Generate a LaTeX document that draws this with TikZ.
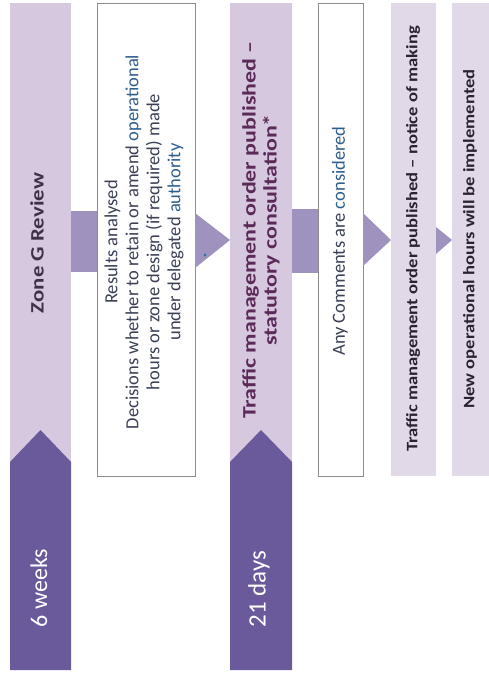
\documentclass[tikz,border=0pt]{standalone}
\usepackage{fontspec}
\setmainfont{Carlito}
\definecolor{lightpurple}{HTML}{D6C8DE}
\definecolor{darkpurple}{HTML}{6A5A9C}
\definecolor{bandpurple}{HTML}{A092BE}
\definecolor{palepurple}{HTML}{E1D9E8}
\definecolor{titletext}{HTML}{5B2A59}
\definecolor{zonetext}{HTML}{3D3347}
\definecolor{boxtext}{HTML}{3B4055}
\definecolor{bluetext}{HTML}{2E5E8E}
\definecolor{darktext}{HTML}{2A2230}
\definecolor{boxline}{HTML}{8C8C8C}
\newcommand{\wide}[2]{\scalebox{#1}[1]{#2}}
\begin{document}
\begin{tikzpicture}[x=1pt,y=-1pt,
  colbox/.style={rectangle, inner sep=0, outer sep=0, anchor=north west},
  whitebox/.style={colbox, fill=white, draw=boxline, line width=0.6pt},
  vtext/.style={rotate=90, inner sep=0, align=center},
  linkband/.style={fill=bandpurple},
]
\useasboundingbox (0,0) rectangle (489,674);
% columns
\node[colbox, fill=lightpurple, minimum width=61pt, minimum height=470pt] (c1) at (10,3) {};
\node[colbox, fill=lightpurple, minimum width=62pt, minimum height=470pt] (c3) at (230,3) {};
\node[whitebox, minimum width=98pt, minimum height=473pt] (b2) at (97,3) {};
\node[whitebox, minimum width=45pt, minimum height=473pt] (b4) at (318,3) {};
\node[colbox, fill=palepurple, minimum width=45pt, minimum height=473pt] (c5) at (391,3) {};
\node[colbox, fill=palepurple, minimum width=37pt, minimum height=473pt] (c6) at (452,3) {};
% dark arrows (time spans)
\fill[darkpurple] (10,670) -- (10,462) -- (40.5,430) -- (71,462) -- (71,670) -- cycle;
\fill[darkpurple] (230,670) -- (230,462) -- (261,430) -- (292,462) -- (292,670) -- cycle;
% links
\fill[linkband] (c1.east |- 0,211) rectangle (b2.west |- 0,272);
\fill[linkband] (c3.east |- 0,209) rectangle (b4.west |- 0,273);
\fill[bandpurple] (195,213) -- (c3.west |- 0,240) -- (195,268) -- cycle;
\fill[bandpurple] (363,213) -- (c5.west |- 0,240) -- (363,266) -- cycle;
\fill[bandpurple] (436,227) -- (c6.west |- 0,240) -- (436,254) -- cycle;
\fill[bluetext!80!cyan] (205,255) circle (1.6pt);
% texts
\node[vtext, text=zonetext, font=\fontsize{19}{21}\selectfont\bfseries] (t1) at (37,243) {\wide{1.2}{Zone G Review}};
\node[vtext, text=white, font=\fontsize{24}{26}\selectfont] (t2) at (39,588) {6 weeks};
\node[vtext, text=boxtext, font=\fontsize{18.5}{21}\selectfont] (t3) at (144,242)
  {Results analysed\\Decisions whether to retain or amend \textcolor{bluetext}{operational}\\hours or zone design (if required) made\\under delegated \textcolor{bluetext}{authority}};
\node[vtext, text=titletext, font=\fontsize{19}{21}\selectfont\bfseries] (t4) at (261,230)
  {\wide{1.26}{Traffic management order published –}\\\wide{1.26}{statutory consultation*}};
\node[vtext, text=white, font=\fontsize{25}{27}\selectfont] (t5) at (259,589) {21 days};
\node[vtext, text=boxtext, font=\fontsize{18.5}{21}\selectfont] (t6) at (340,241) {Any Comments are \textcolor{bluetext}{considered}};
\node[vtext, text=darktext, font=\fontsize{16}{19}\selectfont\bfseries] (t7) at (413,239) {\wide{1.16}{Traffic management order published – notice of making}};
\node[vtext, text=darktext, font=\fontsize{16}{19}\selectfont\bfseries] (t8) at (470,239) {\wide{1.16}{New operational hours will be implemented}};
\end{tikzpicture}
\end{document}
